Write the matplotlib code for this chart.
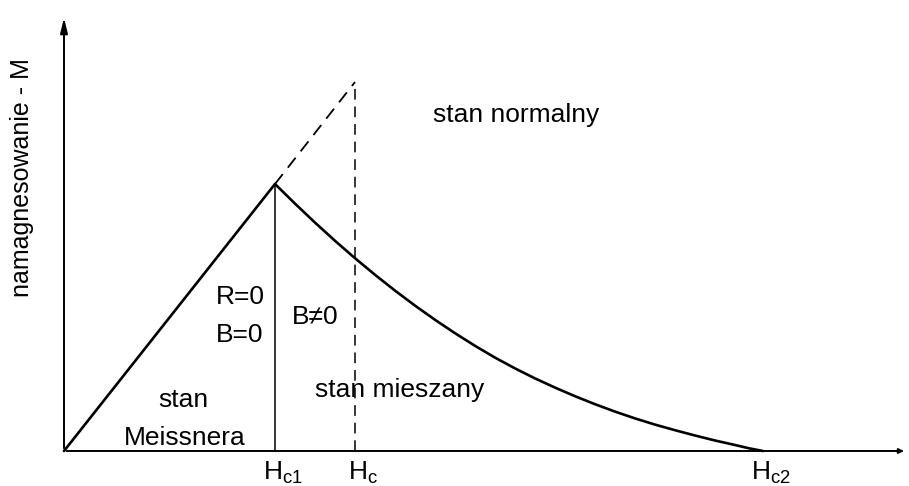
import matplotlib.pyplot as plt

plt.rcParams['font.family'] = ['Liberation Sans', 'DejaVu Sans']
plt.rcParams['mathtext.fontset'] = 'custom'
plt.rcParams['mathtext.rm'] = 'Liberation Sans'
plt.rcParams['mathtext.it'] = 'Liberation Sans'

# critical fields and magnetisation values (arbitrary units)
H_c1 = 2.11
H_c = 2.91
H_c2 = 6.99
M_c1 = 2.67
M_c = 3.69

# mixed state: magnetisation falling from H_c1 to H_c2
h_mixed = [2.11, 2.31, 2.51, 2.71, 2.91, 3.11, 3.31, 3.51, 3.71, 3.91,
           4.11, 4.31, 4.51, 4.71, 4.91, 5.11, 5.31, 5.51, 5.71, 5.91,
           6.11, 6.31, 6.51, 6.71, 6.85, 6.99]
m_mixed = [2.670, 2.474, 2.284, 2.102, 1.928, 1.762, 1.604, 1.454, 1.312, 1.178,
           1.052, 0.934, 0.826, 0.726, 0.634, 0.548, 0.468, 0.394, 0.326, 0.264,
           0.208, 0.155, 0.105, 0.060, 0.027, 0.0]

tick_pos = [H_c1, H_c, H_c2]
tick_text = [r'$\mathregular{H_{c1}}$', r'$\mathregular{H_{c}}$', r'$\mathregular{H_{c2}}$']

fig = plt.figure(figsize=(9.09, 4.86), dpi=100)
ax = fig.add_axes([0, 0, 1, 1])
ax.set_xlim(-0.64, 8.45)
ax.set_ylim(-0.35, 4.51)
ax.axis('off')

# axes with arrow heads
ax.annotate('', xy=(0, 4.36), xytext=(0, 0),
            arrowprops=dict(arrowstyle='-|>,head_length=0.9,head_width=0.22', lw=1.4, color='black'))
ax.annotate('', xy=(8.43, 0), xytext=(0, 0),
            arrowprops=dict(arrowstyle='-|>,head_length=0.3,head_width=0.14', lw=1.4, color='black'))

# Meissner state line
ax.plot([0, H_c1], [0, M_c1], color='black', lw=1.9, solid_capstyle='round')
# extension up to H_c (dashed)
ax.plot([H_c1, H_c], [M_c1, M_c], color='black', lw=1.3, ls=(0, (7, 4.5)))
ax.plot([H_c, H_c], [0, M_c], color='black', lw=1.1, ls=(0, (7, 4.5)))
# vertical at H_c1
ax.plot([H_c1, H_c1], [0, M_c1], color='black', lw=1.1)
# mixed state curve
ax.plot(h_mixed, m_mixed, color='black', lw=1.9, solid_capstyle='round',
        solid_joinstyle='round')

for x, t in zip(tick_pos, tick_text):
    ax.text(x + 0.08, -0.22, t, fontsize=19, ha='center', va='center')

ax.text(-0.42, 2.73, 'namagnesowanie - M', fontsize=18, rotation=90,
        ha='center', va='center')

fs = 19
ax.text(4.52, 3.36, 'stan normalny', fontsize=fs, ha='center', va='center')
ax.text(1.76, 1.54, 'R=0', fontsize=fs, ha='center', va='center')
ax.text(1.76, 1.16, 'B=0', fontsize=fs, ha='center', va='center')
ax.text(2.51, 1.34, 'B≠0', fontsize=fs, ha='center', va='center')
ax.text(3.36, 0.61, 'stan mieszany', fontsize=fs, ha='center', va='center')
ax.text(1.19, 0.51, 'stan', fontsize=fs, ha='center', va='center')
ax.text(1.21, 0.13, 'Meissnera', fontsize=fs, ha='center', va='center')

fig.savefig('out.png', dpi=100)
